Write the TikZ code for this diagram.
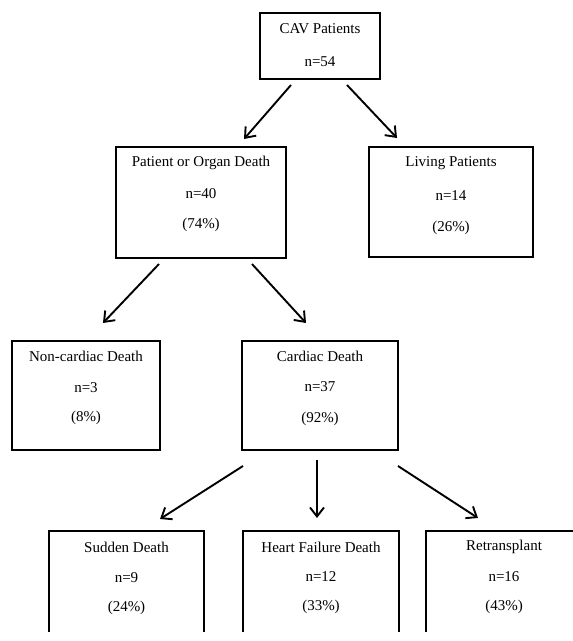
\documentclass[tikz,border=0pt]{standalone}
\usepackage{fontspec}
\setmainfont{Liberation Serif}
\usetikzlibrary{arrows.meta,calc}
\begin{document}
\begin{tikzpicture}[x=1pt,y=-1pt,
  boxnode/.style={draw,line width=2.5pt,rectangle,inner sep=0pt,outer sep=0pt,anchor=north west},
  openbox/.style={rectangle,inner sep=0pt,outer sep=0pt,anchor=north west},
  txt/.style={font=\fontsize{15}{18}\selectfont,inner sep=0pt,anchor=center},
  arr/.style={line width=1.9pt,-{Straight Barb[length=9pt,width=14pt,line width=1.9pt]}}
]
\useasboundingbox[fill=white] (0,0) rectangle (573,641);
% boxes
\node[boxnode,minimum width=120pt,minimum height=66pt] (cav) at (260,13) {};
\node[boxnode,minimum width=170pt,minimum height=111pt] (pod) at (116,147) {};
\node[boxnode,minimum width=164pt,minimum height=110pt] (liv) at (369,147) {};
\node[boxnode,minimum width=148pt,minimum height=109pt] (nonc) at (12,341) {};
\node[boxnode,minimum width=156pt,minimum height=109pt] (card) at (242,341) {};
\node[openbox,minimum width=155pt,minimum height=101pt] (sud) at (49,531) {};
\node[openbox,minimum width=156pt,minimum height=101pt] (hf) at (243,531) {};
\node[openbox,minimum width=170pt,minimum height=101pt] (ret) at (426,531) {};
\foreach \b in {sud,hf,ret}{
  \draw[line width=2.5pt] (\b.south west) -- (\b.north west) -- (\b.north east) -- (\b.south east);
}
% texts
\node[txt] (cavA) at ($(cav.north)+(0,16)$) {CAV Patients};
\node[txt] (cavB) at ($(cav.north)+(0,49)$) {n=54};
\node[txt] (podA) at ($(pod.north)+(0,16)$) {Patient or Organ Death};
\node[txt] (podB) at ($(pod.north)+(0,47)$) {n=40};
\node[txt] (podC) at ($(pod.north)+(0,78)$) {(74\%)};
\node[txt] (livA) at ($(liv.north)+(0,16)$) {Living Patients};
\node[txt] (livB) at ($(liv.north)+(0,49)$) {n=14};
\node[txt] (livC) at ($(liv.north)+(0,81)$) {(26\%)};
\node[txt] (noncA) at ($(nonc.north)+(0,15)$) {Non-cardiac Death};
\node[txt] (noncB) at ($(nonc.north)+(0,47)$) {n=3};
\node[txt] (noncC) at ($(nonc.north)+(0,77)$) {(8\%)};
\node[txt] (cardA) at ($(card.north)+(0,15)$) {Cardiac Death};
\node[txt] (cardB) at ($(card.north)+(0,46)$) {n=37};
\node[txt] (cardC) at ($(card.north)+(0,78)$) {(92\%)};
\node[txt] (sudA) at ($(sud.north)+(0,16)$) {Sudden Death};
\node[txt] (sudB) at ($(sud.north)+(0,47)$) {n=9};
\node[txt] (sudC) at ($(sud.north)+(0,77)$) {(24\%)};
\node[txt] (hfA) at ($(hf.north)+(0,16)$) {Heart Failure Death};
\node[txt] (hfB) at ($(hf.north)+(0,46)$) {n=12};
\node[txt] (hfC) at ($(hf.north)+(0,76)$) {(33\%)};
\node[txt] (retA) at ($(ret.north west)+(78,16)$) {Retransplant};
\node[txt] (retB) at ($(ret.north west)+(78,46)$) {n=16};
\node[txt] (retC) at ($(ret.north west)+(78,76)$) {(43\%)};
% connector end points
\coordinate (c1s) at (291,85);  \coordinate (c1e) at (244,139);
\coordinate (c2s) at (347,85);  \coordinate (c2e) at (397,138);
\coordinate (c3s) at (159,264); \coordinate (c3e) at (103,323);
\coordinate (c4s) at (252,264); \coordinate (c4e) at (306,323);
\coordinate (c5s) at (243,466); \coordinate (c5e) at (160,519);
\coordinate (c6s) at (317,460); \coordinate (c6e) at (317,518);
\coordinate (c7s) at (398,466); \coordinate (c7e) at (478,518);
\foreach \i in {1,...,7}{ \draw[arr] (c\i s) -- (c\i e); }
\end{tikzpicture}
\end{document}
